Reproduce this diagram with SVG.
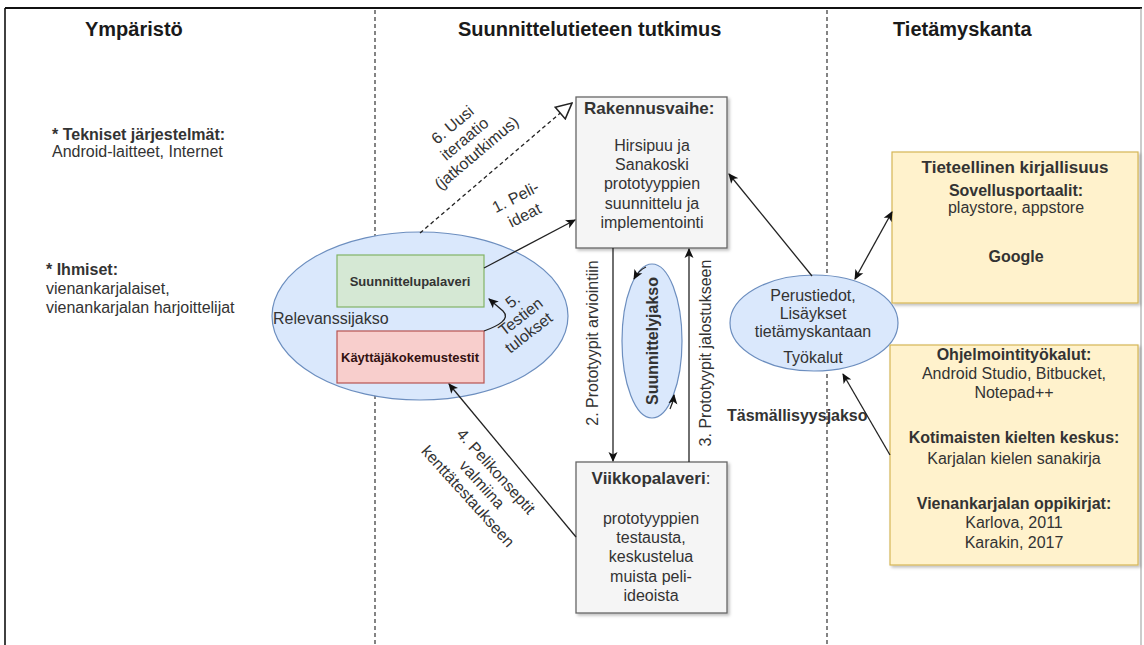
<svg xmlns="http://www.w3.org/2000/svg" width="1144" height="645" viewBox="0 0 1144 645">
  <style>
    text { font-family: "Liberation Sans", Arial, sans-serif; fill: #333333; }
    .hdr { font-size: 20px; font-weight: bold; fill: #1a1a1a; }
    .t16 { font-size: 16px; }
    .b16 { font-size: 16px; font-weight: bold; }
    .b17 { font-size: 17px; font-weight: bold; }
    .b13 { font-size: 13px; font-weight: bold; }
    .mid { text-anchor: middle; }
    .ell { fill: #dae8fc; stroke: #6c8ebf; stroke-width: 1.2; }
    .gray { fill: #f5f5f5; stroke: #666666; stroke-width: 1.3; }
    .yel { fill: #fff2cc; stroke: #d6b656; stroke-width: 1.2; }
    .edge { fill: none; stroke: #222222; stroke-width: 1.3; }
    .divider { stroke: #333333; stroke-width: 1.2; stroke-dasharray: 4 3; }
  </style>
  <defs>
    <marker id="arrow" viewBox="0 0 10 10" refX="9" refY="5" markerWidth="10" markerHeight="10" markerUnits="userSpaceOnUse" orient="auto">
      <path d="M0,0.5 L10,5 L0,9.5 L2.5,5 z" fill="#111111"/>
    </marker>
    <marker id="arrowStart" viewBox="0 0 10 10" refX="1" refY="5" markerWidth="10" markerHeight="10" markerUnits="userSpaceOnUse" orient="auto">
      <path d="M10,0.5 L0,5 L10,9.5 L7.5,5 z" fill="#111111"/>
    </marker>
    <marker id="openTri" viewBox="0 0 14 14" refX="13" refY="7" markerWidth="18" markerHeight="18" markerUnits="userSpaceOnUse" orient="auto">
      <path d="M1,1 L13,7 L1,13 z" fill="#ffffff" stroke="#222222" stroke-width="1.2"/>
    </marker>
    <filter id="shadow" x="-10%" y="-10%" width="130%" height="130%">
      <feDropShadow dx="2" dy="2" stdDeviation="1.5" flood-color="#000000" flood-opacity="0.25"/>
    </filter>
  </defs>

  <rect x="0" y="0" width="1144" height="645" fill="#ffffff"/>

  <!-- frame and column dividers -->
  <g id="frame">
    <line x1="5" y1="8" x2="1142" y2="8" stroke="#111111" stroke-width="2.2"/>
    <line x1="5" y1="8" x2="5" y2="645" stroke="#111111" stroke-width="1.6"/>
    <line x1="1141" y1="8" x2="1141" y2="645" stroke="#999999" stroke-width="1"/>
    <line class="divider" x1="375" y1="10" x2="375" y2="645"/>
    <line class="divider" x1="827" y1="10" x2="827" y2="645"/>
  </g>

  <!-- column headings -->
  <g id="headings">
    <text class="hdr" x="85" y="36">Ympäristö</text>
    <text class="hdr" x="458" y="36">Suunnittelutieteen tutkimus</text>
    <text class="hdr" x="893" y="36">Tietämyskanta</text>
  </g>

  <!-- environment notes -->
  <g id="environment">
    <text class="b16" x="52" y="140">* Tekniset järjestelmät:</text>
    <text class="t16" x="52" y="157">Android-laitteet, Internet</text>
    <text class="b16" x="46" y="275">* Ihmiset:</text>
    <text class="t16" x="46" y="294">vienankarjalaiset,</text>
    <text class="t16" x="46" y="313">vienankarjalan harjoittelijat</text>
  </g>

  <!-- relevance cycle -->
  <g id="relevanssijakso">
    <ellipse class="ell" cx="420" cy="316" rx="148" ry="84"/>
    <text class="t16" x="273" y="324">Relevanssijakso</text>
  </g>
  <g id="suunnittelupalaveri">
    <rect x="337" y="255" width="147" height="52" fill="#d5e8d4" stroke="#82b366" stroke-width="1.2"/>
    <text class="b13 mid" x="410" y="286">Suunnittelupalaveri</text>
  </g>
  <g id="kayttajakokemustestit">
    <rect x="337" y="331" width="147" height="52" fill="#f8cecc" stroke="#b85450" stroke-width="1.2"/>
    <text class="b13 mid" x="410" y="362" style="fill:#331111">Käyttäjäkokemustestit</text>
  </g>

  <!-- build phase -->
  <g id="rakennusvaihe">
    <rect class="gray" x="576" y="97" width="151" height="151" filter="url(#shadow)"/>
    <text class="b17" x="584" y="114">Rakennusvaihe:</text>
    <text class="t16 mid" x="652" y="151">Hirsipuu ja</text>
    <text class="t16 mid" x="652" y="170">Sanakoski</text>
    <text class="t16 mid" x="652" y="189">prototyyppien</text>
    <text class="t16 mid" x="652" y="209">suunnittelu ja</text>
    <text class="t16 mid" x="652" y="228">implementointi</text>
  </g>

  <!-- weekly meeting -->
  <g id="viikkopalaveri">
    <rect class="gray" x="576" y="462" width="151" height="151" filter="url(#shadow)"/>
    <text class="mid" x="651" y="484" style="font-size:17px"><tspan font-weight="bold">Viikkopalaveri</tspan>:</text>
    <text class="t16 mid" x="651" y="524">prototyyppien</text>
    <text class="t16 mid" x="651" y="543">testausta,</text>
    <text class="t16 mid" x="651" y="562">keskustelua</text>
    <text class="t16 mid" x="651" y="582">muista peli-</text>
    <text class="t16 mid" x="651" y="601">ideoista</text>
  </g>

  <!-- design cycle -->
  <g id="suunnittelyjakso">
    <ellipse class="ell" cx="652" cy="341" rx="30" ry="77"/>
    <text class="b16 mid" transform="translate(658,341) rotate(-90)">Suunnittelyjakso</text>
  </g>

  <!-- knowledge base side -->
  <g id="perustiedot">
    <ellipse class="ell" cx="814" cy="323" rx="84" ry="48"/>
    <text class="t16 mid" x="813" y="301">Perustiedot,</text>
    <text class="t16 mid" x="813" y="319">Lisäykset</text>
    <text class="t16 mid" x="813" y="337">tietämyskantaan</text>
    <text class="t16 mid" x="813" y="363">Työkalut</text>
  </g>
  <g id="tieteellinen-kirjallisuus">
    <rect class="yel" x="892" y="152" width="246" height="151" filter="url(#shadow)"/>
    <text class="b17 mid" x="1015" y="173">Tieteellinen kirjallisuus</text>
    <text class="b16 mid" x="1016" y="196">Sovellusportaalit:</text>
    <text class="t16 mid" x="1016" y="213">playstore, appstore</text>
    <text class="b16 mid" x="1016" y="262">Google</text>
  </g>
  <g id="tyokalut">
    <rect class="yel" x="890" y="345" width="248" height="220" filter="url(#shadow)"/>
    <text class="b16 mid" x="1014" y="360">Ohjelmointityökalut:</text>
    <text class="t16 mid" x="1014" y="379">Android Studio, Bitbucket,</text>
    <text class="t16 mid" x="1014" y="398">Notepad++</text>
    <text class="b16 mid" x="1014" y="443">Kotimaisten kielten keskus:</text>
    <text class="t16 mid" x="1014" y="464">Karjalan kielen sanakirja</text>
    <text class="b16 mid" x="1014" y="509">Vienankarjalan oppikirjat:</text>
    <text class="t16 mid" x="1014" y="528">Karlova, 2011</text>
    <text class="t16 mid" x="1014" y="548">Karakin, 2017</text>
  </g>
  <g id="tasmallisyysjakso">
    <text class="b16" x="727" y="421">Täsmällisyysjakso</text>
  </g>

  <!-- connectors -->
  <g id="connectors">
    <!-- 1: game ideas to build phase -->
    <line class="edge" x1="484" y1="268" x2="575" y2="220" marker-end="url(#arrow)"/>
    <!-- 2 and 3: prototypes down to evaluation and back up -->
    <line class="edge" x1="613" y1="248" x2="613" y2="461" stroke="#444444" stroke-width="1.6" marker-end="url(#arrow)"/>
    <line class="edge" x1="689" y1="462" x2="689" y2="249" stroke="#444444" stroke-width="1.6" marker-end="url(#arrow)"/>
    <!-- 4: concepts ready for field testing -->
    <line class="edge" x1="576" y1="537" x2="449" y2="384" marker-end="url(#arrow)"/>
    <!-- 5: test results back to design meeting -->
    <path class="edge" d="M 484 331 C 498 326 511 319 503 311 L 489 299" marker-end="url(#arrow)"/>
    <!-- 6: new iteration (dashed) -->
    <line class="edge" x1="420" y1="233" x2="572" y2="103" stroke-dasharray="4 3" marker-end="url(#openTri)"/>
    <!-- design cycle loop ticks -->
    <path class="edge" d="M 646 267 Q 639 270 634 279" marker-end="url(#arrow)"/>
    <path class="edge" d="M 670 409 Q 673 403 674 395" marker-end="url(#arrow)"/>
    <!-- knowledge base links -->
    <line class="edge" x1="812" y1="276" x2="729" y2="174" marker-end="url(#arrow)"/>
    <line class="edge" x1="855" y1="279" x2="892" y2="212" marker-start="url(#arrowStart)" marker-end="url(#arrow)"/>
    <line class="edge" x1="890" y1="455" x2="843" y2="374" marker-end="url(#arrow)"/>
  </g>

  <!-- connector labels -->
  <g id="edge-labels">
    <text class="t16 mid" transform="translate(518,202) rotate(-27)">1. Peli-</text>
    <text class="t16 mid" transform="translate(527,220) rotate(-27)">ideat</text>
    <text class="t16 mid" transform="translate(598,343) rotate(-90)">2. Prototyypit arviointiin</text>
    <text class="t16 mid" transform="translate(711,353) rotate(-90)">3. Prototyypit jalostukseen</text>
    <text class="t16 mid" transform="translate(492,475) rotate(48)">4. Pelikonseptit</text>
    <text class="t16 mid" transform="translate(478,488) rotate(48)">valmiina</text>
    <text class="t16 mid" transform="translate(464,500) rotate(48)">kenttätestaukseen</text>
    <text class="t16 mid" transform="translate(516,305) rotate(-38)">5.</text>
    <text class="t16 mid" transform="translate(524,321) rotate(-38)">Testien</text>
    <text class="t16 mid" transform="translate(532,337) rotate(-38)">tulokset</text>
    <text class="t16 mid" transform="translate(456,129) rotate(-40)">6. Uusi</text>
    <text class="t16 mid" transform="translate(468,143) rotate(-40)">iteraatio</text>
    <text class="t16 mid" transform="translate(480,157) rotate(-40)">(jatkotutkimus)</text>
  </g>
</svg>
